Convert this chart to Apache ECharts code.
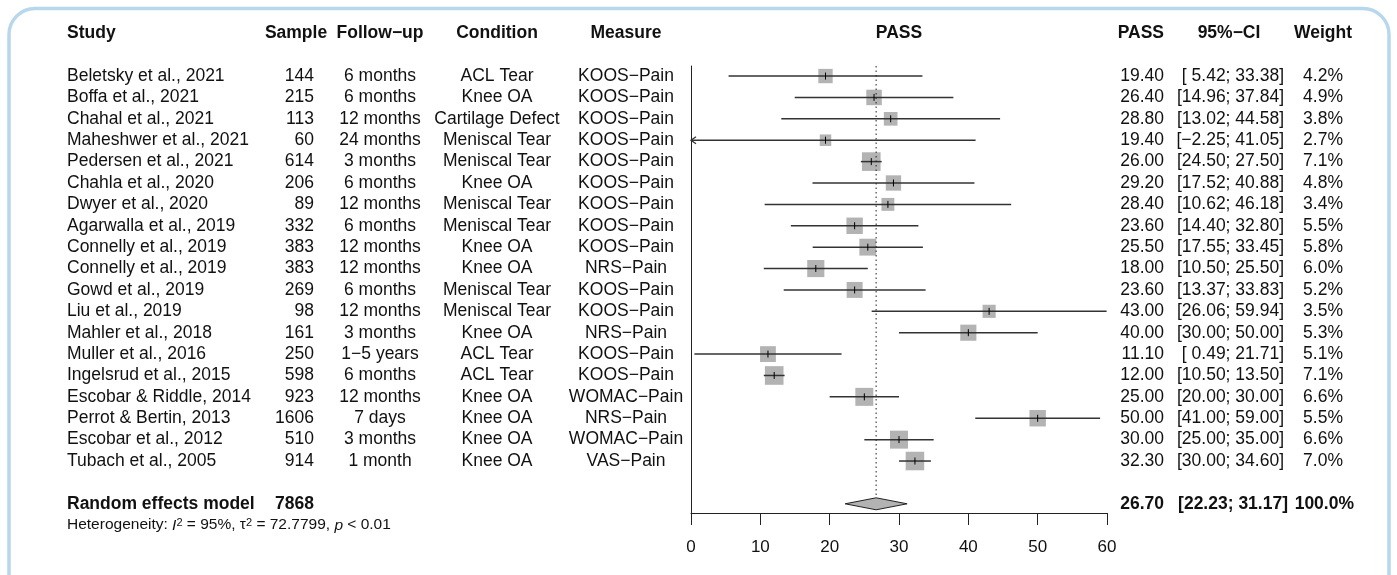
<!DOCTYPE html>
<html>
<head>
<meta charset="utf-8">
<title>PASS forest plot</title>
<script src="https://cdn.jsdelivr.net/npm/echarts@6/dist/echarts.min.js"></script>
<style>
  html, body { margin: 0; padding: 0; background: #fff; }
  #main { width: 1397px; height: 575px; }
</style>
</head>
<body>
<div id="main"></div>
<script>
var studies = ['Beletsky et al., 2021', 'Boffa et al., 2021', 'Chahal et al., 2021', 'Maheshwer et al., 2021',
  'Pedersen et al., 2021', 'Chahla et al., 2020', 'Dwyer et al., 2020', 'Agarwalla et al., 2019',
  'Connelly et al., 2019', 'Connelly et al., 2019', 'Gowd et al., 2019', 'Liu et al., 2019',
  'Mahler et al., 2018', 'Muller et al., 2016', 'Ingelsrud et al., 2015', 'Escobar & Riddle, 2014',
  'Perrot & Bertin, 2013', 'Escobar et al., 2012', 'Tubach et al., 2005'];
var samples = [144, 215, 113, 60, 614, 206, 89, 332, 383, 383, 269, 98, 161, 250, 598, 923, 1606, 510, 914];
var followups = ['6 months', '6 months', '12 months', '24 months', '3 months', '6 months', '12 months', '6 months',
  '12 months', '12 months', '6 months', '12 months', '3 months', '1\u22125 years', '6 months', '12 months',
  '7 days', '3 months', '1 month'];
var conditions = ['ACL Tear', 'Knee OA', 'Cartilage Defect', 'Meniscal Tear', 'Meniscal Tear', 'Knee OA',
  'Meniscal Tear', 'Meniscal Tear', 'Knee OA', 'Knee OA', 'Meniscal Tear', 'Meniscal Tear', 'Knee OA',
  'ACL Tear', 'ACL Tear', 'Knee OA', 'Knee OA', 'Knee OA', 'Knee OA'];
var measures = ['KOOS\u2212Pain', 'KOOS\u2212Pain', 'KOOS\u2212Pain', 'KOOS\u2212Pain', 'KOOS\u2212Pain',
  'KOOS\u2212Pain', 'KOOS\u2212Pain', 'KOOS\u2212Pain', 'KOOS\u2212Pain', 'NRS\u2212Pain', 'KOOS\u2212Pain',
  'KOOS\u2212Pain', 'NRS\u2212Pain', 'KOOS\u2212Pain', 'KOOS\u2212Pain', 'WOMAC\u2212Pain', 'NRS\u2212Pain',
  'WOMAC\u2212Pain', 'VAS\u2212Pain'];
var pass = [19.40, 26.40, 28.80, 19.40, 26.00, 29.20, 28.40, 23.60, 25.50, 18.00, 23.60, 43.00, 40.00, 11.10,
  12.00, 25.00, 50.00, 30.00, 32.30];
var lower = [5.42, 14.96, 13.02, -2.25, 24.50, 17.52, 10.62, 14.40, 17.55, 10.50, 13.37, 26.06, 30.00, 0.49,
  10.50, 20.00, 41.00, 25.00, 30.00];
var upper = [33.38, 37.84, 44.58, 41.05, 27.50, 40.88, 46.18, 32.80, 33.45, 25.50, 33.83, 59.94, 50.00, 21.71,
  13.50, 30.00, 59.00, 35.00, 34.60];
var weights = [4.2, 4.9, 3.8, 2.7, 7.1, 4.8, 3.4, 5.5, 5.8, 6.0, 5.2, 3.5, 5.3, 5.1, 7.1, 6.6, 5.5, 6.6, 7.0];

var pooled = 26.70, pooledLower = 22.23, pooledUpper = 31.17, totalSample = 7868;
var xTicks = [0, 10, 20, 30, 40, 50, 60];

var FONT = '"Liberation Sans", Arial, Helvetica, sans-serif';
var FS = 17.5;
var HEADER_ROW = -2, SUMMARY_ROW = 20, HET_ROW = 21.0;
var Y_MIN = -0.47, Y_MAX = 20.43;

function num(v) {
  var s = Math.abs(v).toFixed(2);
  return (v < 0 ? '\u2212' : '') + s;
}
function pad(s) {
  while (s.length < 5) s = ' ' + s;
  return s;
}
function ci(lo, hi) {
  return '[' + pad(num(lo)) + '; ' + pad(num(hi)) + ']';
}

// table columns: x position, alignment
var cols = {
  study: { x: 67, align: 'left' },
  sample: { x: 314, align: 'right' },
  follow: { x: 380, align: 'center' },
  cond: { x: 497, align: 'center' },
  measure: { x: 626, align: 'center' },
  pass: { x: 1164, align: 'right' },
  ci: { x: 1284, align: 'right' },
  weight: { x: 1343, align: 'right' }
};

function txt(x, y, s, align, bold) {
  return {
    type: 'text', x: x, y: y,
    style: {
      text: s, fill: '#111', font: (bold ? 'bold ' : '') + FS + 'px ' + FONT,
      align: align, verticalAlign: 'middle'
    }
  };
}

var myChart = echarts.init(document.getElementById('main'));

var option = {
  animation: false,
  backgroundColor: '#fff',
  graphic: [{
    type: 'rect',
    shape: { x: 9, y: 8.5, width: 1380, height: 640, r: 26 },
    style: { fill: 'none', stroke: '#b7d8ec', lineWidth: 3.5 }
  }],
  grid: { left: 691, right: 290, top: 66, bottom: 62 },
  xAxis: {
    type: 'value', min: 0, max: 60, interval: 10, position: 'bottom',
    axisLine: { show: true, onZero: false, lineStyle: { color: '#222', width: 1 } },
    axisTick: { show: true, length: 12, lineStyle: { color: '#222' } },
    axisLabel: {
      color: '#111', fontSize: 17, fontFamily: FONT, margin: 26,
      formatter: function (v) { return xTicks.indexOf(v) >= 0 ? String(v) : ''; }
    },
    splitLine: { show: false }
  },
  yAxis: {
    type: 'value', inverse: true, min: Y_MIN, max: Y_MAX,
    axisLine: { show: true, onZero: false, lineStyle: { color: '#222', width: 1 } },
    axisTick: { show: false }, axisLabel: { show: false }, splitLine: { show: false }
  },
  series: [
    {
      name: 'table', type: 'custom', silent: true,
      data: studies.map(function (s, i) { return [0, i]; }),
      renderItem: function (params, api) {
        var i = params.dataIndex;
        var y = api.coord([0, i])[1];
        var children = [
          txt(cols.study.x, y, studies[i], 'left'),
          txt(cols.sample.x, y, String(samples[i]), 'right'),
          txt(cols.follow.x, y, followups[i], 'center'),
          txt(cols.cond.x, y, conditions[i], 'center'),
          txt(cols.measure.x, y, measures[i], 'center'),
          txt(cols.pass.x, y, pass[i].toFixed(2), 'right'),
          txt(cols.ci.x, y, ci(lower[i], upper[i]), 'right'),
          txt(cols.weight.x, y, weights[i].toFixed(1) + '%', 'right')
        ];
        if (i === 0) {
          var yh = api.coord([0, HEADER_ROW])[1];
          var ys = api.coord([0, SUMMARY_ROW])[1];
          var yt = api.coord([0, HET_ROW])[1];
          children.push(
            txt(cols.study.x, yh, 'Study', 'left', true),
            txt(296, yh, 'Sample', 'center', true),
            txt(cols.follow.x, yh, 'Follow\u2212up', 'center', true),
            txt(cols.cond.x, yh, 'Condition', 'center', true),
            txt(cols.measure.x, yh, 'Measure', 'center', true),
            txt(api.coord([30, 0])[0], yh, 'PASS', 'center', true),
            txt(cols.pass.x, yh, 'PASS', 'right', true),
            txt(1229, yh, '95%\u2212CI', 'center', true),
            txt(1323, yh, 'Weight', 'center', true),
            txt(cols.study.x, ys, 'Random effects model', 'left', true),
            txt(cols.sample.x, ys, String(totalSample), 'right', true),
            txt(cols.pass.x, ys, pooled.toFixed(2), 'right', true),
            txt(1288, ys, ci(pooledLower, pooledUpper), 'right', true),
            txt(1354, ys, '100.0%', 'right', true),
            {
              type: 'text', x: cols.study.x, y: yt,
              style: {
                text: 'Heterogeneity: {i|I}{s|2} = 95%, \u03c4{s|2} = 72.7799, {i|p} < 0.01',
                fill: '#111', font: '15.5px ' + FONT, align: 'left', verticalAlign: 'middle',
                rich: {
                  i: { fontStyle: 'italic', fontSize: 15.5, fontFamily: FONT, fill: '#111' },
                  s: { fontSize: 11, fontFamily: FONT, fill: '#111', verticalAlign: 'top' }
                }
              }
            }
          );
        }
        return { type: 'group', children: children };
      }
    },
    {
      name: 'studies', type: 'custom',
      data: studies.map(function (s, i) { return [pass[i], i]; }),
      renderItem: function (params, api) {
        var i = params.dataIndex;
        var p = api.coord([pass[i], i]);
        var x1 = api.coord([Math.max(lower[i], 0), i])[0];
        var x2 = api.coord([Math.min(upper[i], 60), i])[0];
        var s = 7 * Math.sqrt(weights[i]);
        var children = [
          { type: 'rect', shape: { x: p[0] - s / 2, y: p[1] - s / 2, width: s, height: s }, style: { fill: '#b3b3b3' } },
          { type: 'line', shape: { x1: x1, y1: p[1], x2: x2, y2: p[1] }, style: { stroke: '#333', lineWidth: 1.5 } },
          { type: 'line', shape: { x1: p[0], y1: p[1] - 3.5, x2: p[0], y2: p[1] + 3.5 }, style: { stroke: '#000', lineWidth: 1 } }
        ];
        if (lower[i] < 0) {
          children.push({
            type: 'polyline',
            shape: { points: [[x1 + 5, p[1] - 3.5], [x1, p[1]], [x1 + 5, p[1] + 3.5]] },
            style: { stroke: '#333', lineWidth: 1.3, fill: 'none' }
          });
        }
        return { type: 'group', children: children };
      }
    },
    {
      name: 'summary', type: 'custom',
      data: [[pooled, SUMMARY_ROW]],
      renderItem: function (params, api) {
        var c = api.coord([pooled, SUMMARY_ROW]);
        var l = api.coord([pooledLower, SUMMARY_ROW]);
        var r = api.coord([pooledUpper, SUMMARY_ROW]);
        var top = api.coord([pooled, Y_MIN]);
        var h = 6;
        return {
          type: 'group',
          children: [
            {
              type: 'line', shape: { x1: c[0], y1: top[1], x2: c[0], y2: c[1] - h },
              style: { stroke: '#222', lineWidth: 1, lineDash: [1.5, 3] }
            },
            {
              type: 'polygon',
              shape: { points: [[l[0], c[1]], [c[0], c[1] - h], [r[0], c[1]], [c[0], c[1] + h]] },
              style: { fill: '#b3b3b3', stroke: '#222', lineWidth: 1 }
            }
          ]
        };
      }
    }
  ]
};

option && myChart.setOption(option);
</script>
</body>
</html>
